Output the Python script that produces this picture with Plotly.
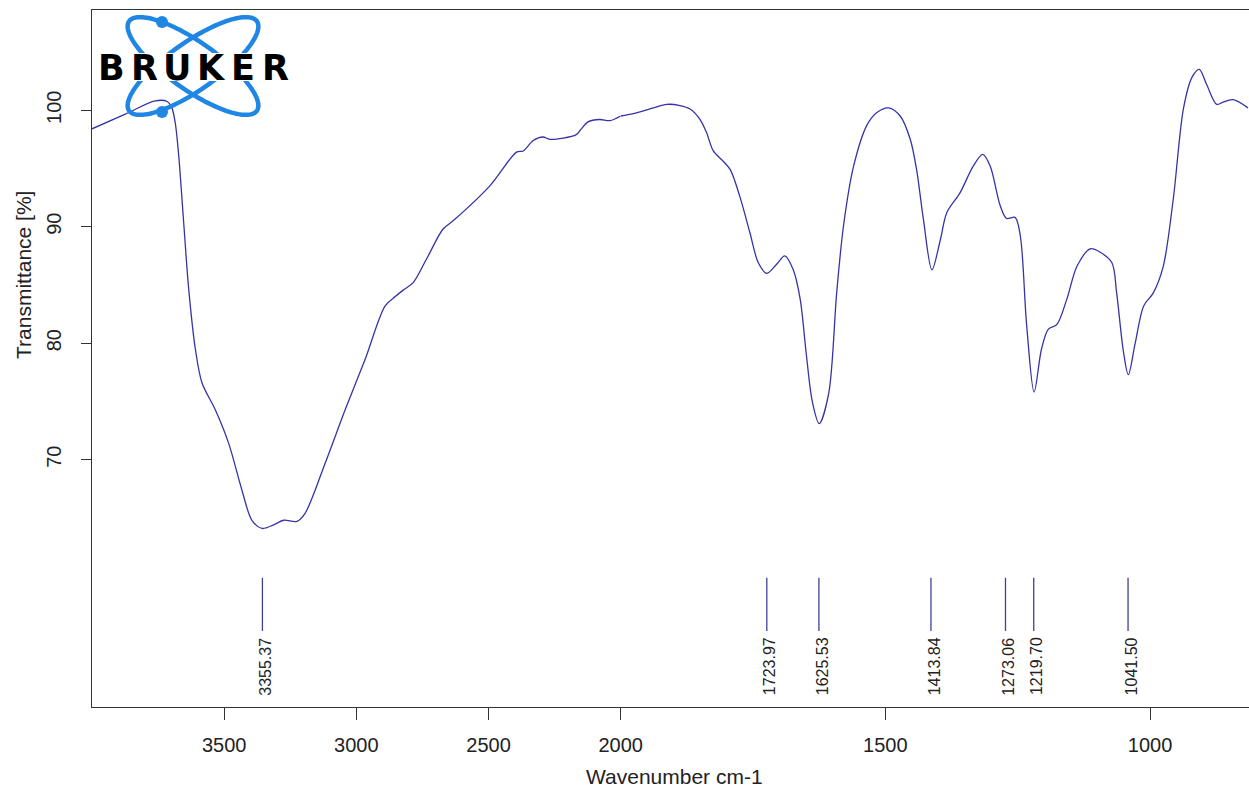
import numpy as np
import plotly.graph_objects as go

# ---------------- data ----------------
wn_high = [4000, 3874, 3761, 3716, 3698, 3685, 3672, 3653, 3634, 3609, 3584, 3534, 3483,
           3433, 3395, 3357, 3313, 3275, 3225, 3194, 3118, 3042, 2967, 2891, 2853, 2820,
           2785, 2735, 2672, 2634, 2495, 2394, 2369, 2331, 2294, 2268, 2168, 2149, 2124,
           2079, 2041, 2000]
tr_high = [98.4, 99.66, 100.8, 100.75, 100.2, 98.9, 96.1, 90.3, 84.6, 79.5, 76.6, 74.3, 71.4,
           67.4, 64.8, 64.1, 64.4, 64.8, 64.7, 65.4, 69.7, 74.3, 78.6, 83.2, 84.0, 84.6,
           85.2, 87.2, 89.8, 90.5, 93.5, 96.4, 96.5, 97.4, 97.7, 97.5, 97.9, 98.4, 99.0,
           99.2, 99.1, 99.5]

wn_low = [2000, 1976, 1938, 1913, 1888, 1869, 1850, 1838, 1825, 1806, 1793, 1775, 1756, 1740,
          1724, 1705, 1690, 1674, 1661, 1649, 1638, 1625, 1607, 1592, 1579, 1560, 1535, 1516,
          1494, 1472, 1453, 1441, 1428, 1412, 1396, 1384, 1359, 1334, 1316, 1302, 1283, 1271,
          1255, 1245, 1233, 1219, 1205, 1192, 1176, 1157, 1138, 1113, 1094, 1072, 1063, 1050,
          1041, 1028, 1012, 994, 975, 956, 937, 921, 907, 893, 874, 862, 843, 815]
tr_low = [99.5, 99.7, 100.2, 100.5, 100.4, 100.1, 99.2, 98.1, 96.5, 95.6, 94.9, 92.6, 89.5, 86.9,
          86.0, 86.8, 87.5, 86.3, 83.8, 78.9, 75.0, 73.1, 75.7, 84.3, 90.1, 95.2, 98.7, 99.8,
          100.2, 99.5, 97.5, 94.9, 90.6, 86.3, 88.9, 91.2, 92.9, 95.2, 96.2, 95.2, 91.8, 90.7,
          90.8, 89.2, 81.5, 75.8, 79.5, 81.2, 81.6, 83.8, 86.6, 88.1, 87.8, 86.9, 84.3, 79.2,
          77.3, 80.0, 83.2, 84.3, 86.6, 92.4, 100.1, 102.8, 103.5, 102.2, 100.5, 100.7, 100.9, 100.2]

peaks = [3355.37, 1723.97, 1625.53, 1413.84, 1273.06, 1219.70, 1041.50]
peak_labels = ["3355.37", "1723.97", "1625.53", "1413.84", "1273.06", "1219.70", "1041.50"]

x_ticks_high = [3500, 3000, 2500, 2000]
x_ticks_low = [1500, 1000]
y_ticks = [70, 80, 90, 100]

# ---------------- layout constants ----------------
W, H = 1249, 790
ML, MR, MT, MB = 92, 0, 10, 83
PW, PH = W - ML - MR, H - MT - MB
SPLIT = (620.7 - ML) / PW
YR = [48.77, 108.6]

LINE_COL = "#3434a8"
AX_COL = "#333333"
FONT = "Liberation Sans, Arial, sans-serif"


def paper(px, py):
    return (px - ML) / PW, (H - MB - py) / PH


fig = go.Figure()
fig.add_trace(go.Scatter(x=wn_high, y=tr_high, mode="lines", xaxis="x", yaxis="y",
                         line=dict(color=LINE_COL, width=1.3, shape="spline", smoothing=0.9),
                         showlegend=False, hoverinfo="skip"))
fig.add_trace(go.Scatter(x=wn_low, y=tr_low, mode="lines", xaxis="x2", yaxis="y",
                         line=dict(color=LINE_COL, width=1.3, shape="spline", smoothing=0.9),
                         showlegend=False, hoverinfo="skip"))

shapes = []
annotations = []
for p, lab in zip(peaks, peak_labels):
    xr = "x" if p >= 2000 else "x2"
    shapes.append(dict(type="line", xref=xr, yref="y", x0=p, x1=p, y0=55.3, y1=59.86,
                       line=dict(color="#40409a", width=1.3)))
    annotations.append(dict(xref=xr, yref="y", x=p, y=49.6, text=lab, textangle=-90,
                            showarrow=False, xanchor="center", yanchor="bottom", xshift=3,
                            font=dict(family=FONT, size=16, color="#222222")))

# ---------------- Bruker logo (decoration) ----------------
BLUE = "#1f86e4"
cx, cy, a, b = 193, 66, 78, 24
t = np.linspace(0, 2 * np.pi, 140)
for ang in (35, -35):
    th = np.radians(ang)
    ex = cx + a * np.cos(t) * np.cos(th) - b * np.sin(t) * np.sin(th)
    ey = cy + a * np.cos(t) * np.sin(th) + b * np.sin(t) * np.cos(th)
    pts = [paper(u, v) for u, v in zip(ex, ey)]
    path = "M " + " L ".join(f"{u:.5f},{v:.5f}" for u, v in pts) + " Z"
    shapes.append(dict(type="path", xref="paper", yref="paper", path=path,
                       line=dict(color=BLUE, width=4.5), layer="above"))
for dx, dy in ((162, 22), (162, 112)):
    x0, y0 = paper(dx - 6, dy + 6)
    x1, y1 = paper(dx + 6, dy - 6)
    shapes.append(dict(type="circle", xref="paper", yref="paper", x0=x0, y0=y0, x1=x1, y1=y1,
                       fillcolor=BLUE, line=dict(width=0), layer="above"))
rx0, ry0 = paper(96, 81)
rx1, ry1 = paper(291, 53)
shapes.append(dict(type="rect", xref="paper", yref="paper", x0=rx0, y0=ry0, x1=rx1, y1=ry1,
                   fillcolor="white", line=dict(width=0), layer="above"))
for ch, lx in zip("BRUKER", [111, 144, 177, 211, 243, 275]):
    ux, uy = paper(lx, 67.5)
    annotations.append(dict(xref="paper", yref="paper", x=ux, y=uy, text=f"<b>{ch}</b>",
                            showarrow=False, xanchor="center", yanchor="middle",
                            font=dict(family="DejaVu Sans", size=35, color="black")))

# axis titles
tx, ty = paper(674, 776)
annotations.append(dict(xref="paper", yref="paper", x=tx, y=ty, text="Wavenumber cm-1",
                        showarrow=False, xanchor="center", yanchor="middle",
                        font=dict(family=FONT, size=21, color="#222222")))
tx, ty = paper(23, 275)
annotations.append(dict(xref="paper", yref="paper", x=tx, y=ty, text="Transmittance [%]",
                        textangle=-90, showarrow=False, xanchor="center", yanchor="middle",
                        font=dict(family=FONT, size=21, color="#222222")))

xcommon = dict(showgrid=False, zeroline=False, showline=True, linecolor=AX_COL, linewidth=1.2,
               mirror=True, ticks="outside", ticklen=12, tickcolor=AX_COL, tickwidth=1.2,
               tickfont=dict(family=FONT, size=20, color="#222222"), anchor="y",
               ticklabelstandoff=8, automargin=False)

fig.update_layout(
    width=W, height=H, autosize=False,
    margin=dict(l=ML, r=MR, t=MT, b=MB, pad=0, autoexpand=False),
    paper_bgcolor="white", plot_bgcolor="white",
    xaxis=dict(range=[4000, 2000], domain=[0, SPLIT], tickvals=x_ticks_high,
               ticktext=[str(v) for v in x_ticks_high], **xcommon),
    xaxis2=dict(range=[2000, 813], domain=[SPLIT, 1], tickvals=x_ticks_low,
                ticktext=[str(v) for v in x_ticks_low], **xcommon),
    yaxis=dict(range=YR, tickvals=y_ticks, ticktext=[str(v) for v in y_ticks],
               showgrid=False, zeroline=False, showline=True, linecolor=AX_COL, linewidth=1.2,
               mirror=False, automargin=False,
               ticks="outside", ticklen=10, tickcolor=AX_COL, tickwidth=1.2, tickangle=-90,
               tickfont=dict(family=FONT, size=20, color="#222222"), ticklabelstandoff=12),
    shapes=shapes,
    annotations=annotations,
)

fig.write_html("out.html")
